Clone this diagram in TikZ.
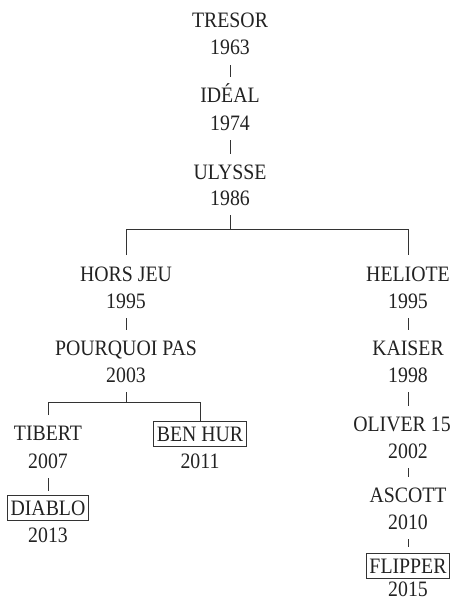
\documentclass[tikz,border=0pt]{standalone}
\usepackage{fontspec}
\setmainfont{Liberation Serif}[FakeStretch=0.9]
\definecolor{ink}{HTML}{222222}
\definecolor{rule}{HTML}{333333}
\begin{document}
\begin{tikzpicture}[x=1pt,y=-1pt,
  lbl/.style={font=\fontsize{22}{26}\selectfont, text=ink, inner sep=0pt, anchor=base},
  boxed/.style={lbl, draw=rule, line width=0.9pt, inner xsep=3pt, inner ysep=5pt, text height=15pt, text depth=0pt},
  conn/.style={draw=rule, line width=0.9pt}]
\useasboundingbox (0,0) rectangle (455,602);
% top trunk
\node[lbl] (tresor) at (230,28) {TRESOR};
\node[lbl] (y1963) at (230,55) {1963};
\node[lbl] (ideal) at (230,102) {IDÉAL};
\node[lbl] (y1974) at (230,130) {1974};
\node[lbl] (ulysse) at (230,179) {ULYSSE};
\node[lbl] (y1986) at (230,205) {1986};
% left branch
\node[lbl] (horsjeu) at (126,281) {HORS JEU};
\node[lbl] (y1995a) at (126,308) {1995};
\node[lbl] (pourquoi) at (126,355) {POURQUOI PAS};
\node[lbl] (y2003) at (126,382) {2003};
\node[lbl] (tibert) at (48,440) {TIBERT};
\node[lbl] (y2007) at (48,468) {2007};
\node[boxed] (diablo) at (48,515) {DIABLO};
\node[lbl] (y2013) at (48,542) {2013};
\node[boxed] (benhur) at (200,441) {BEN HUR};
\node[lbl] (y2011) at (200,468) {2011};
% right branch
\node[lbl] (heliote) at (408,281) {HELIOTE};
\node[lbl] (y1995b) at (408,308) {1995};
\node[lbl] (kaiser) at (408,355) {KAISER};
\node[lbl] (y1998) at (408,382) {1998};
\node[lbl] (oliver) at (402,431) {OLIVER 15};
\node[lbl] (y2002) at (408,458) {2002};
\node[lbl] (ascott) at (408,502) {ASCOTT};
\node[lbl] (y2010) at (408,529) {2010};
\node[boxed] (flipper) at (408,573) {FLIPPER};
\node[lbl] (y2015) at (408,596) {2015};
% bars
\coordinate (bar1) at (0,229);
\coordinate (bar2) at (0,402);
% straight connectors
\draw[conn] ([yshift=-10pt]y1963.south) -- ([yshift=25pt]ideal.base);
\draw[conn] ([yshift=-10pt]y1974.south) -- ([yshift=25pt]ulysse.base);
\draw[conn] ([yshift=-10pt]y1995a.south) -- ([yshift=25pt]pourquoi.base);
\draw[conn] ([yshift=-10pt]y2007.south) -- ([yshift=24pt]diablo.base);
\draw[conn] ([yshift=-10pt]y1995b.south) -- ([yshift=25pt]kaiser.base);
\draw[conn] ([yshift=-10pt]y1998.south) -- ([yshift=25pt]kaiser.base |- oliver.base);
\draw[conn] ([yshift=-10pt]y2002.south) -- ([yshift=25pt]y2002.base |- ascott.base);
\draw[conn] ([yshift=-10pt]y2010.south) -- ([yshift=26pt]flipper.base);
% branching connectors
\draw[conn] ([yshift=-10pt]y1986.south) -- (y1986 |- bar1);
\draw[conn] ([yshift=26pt]horsjeu.base) -- (horsjeu |- bar1) -- (heliote |- bar1) -- ([yshift=26pt]heliote.base);
\draw[conn] ([yshift=-10pt]y2003.south) -- (y2003 |- bar2);
\draw[conn] ([yshift=25pt]tibert.base) -- (tibert |- bar2) -- (benhur |- bar2) -- ([yshift=20pt]benhur.base);
\end{tikzpicture}
\end{document}
